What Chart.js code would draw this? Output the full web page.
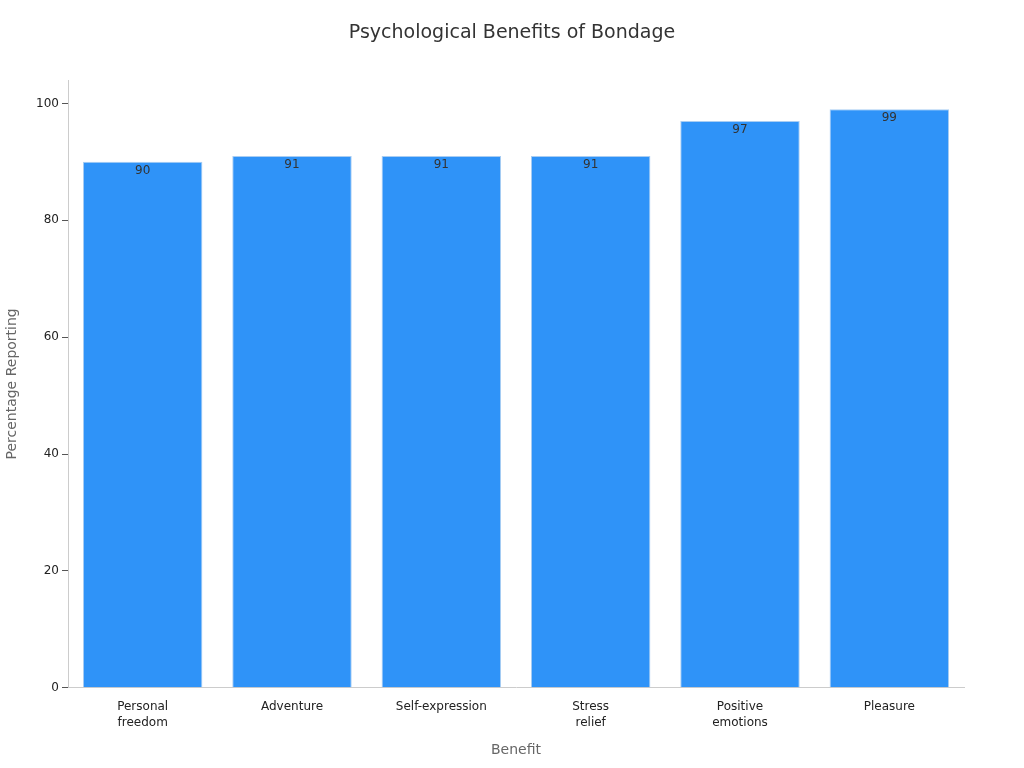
<!DOCTYPE html>
<html>
<head>
<meta charset="utf-8">
<script src="https://cdn.jsdelivr.net/npm/chart.js@4"></script>
<style>
  html, body { margin: 0; padding: 0; background: #fff; }
  #wrap { width: 1024px; height: 768px; }
</style>
</head>
<body>
<div id="wrap"><canvas id="chart" width="1024" height="768"></canvas></div>
<script>
const categories = [['Personal', 'freedom'], 'Adventure', 'Self-expression', ['Stress', 'relief'], ['Positive', 'emotions'], 'Pleasure'];
const values = [90, 91, 91, 91, 97, 99];
const yTicks = [0, 20, 40, 60, 80, 100];

// draws value labels just under the top of each bar
const valueLabels = {
  id: 'valueLabels',
  afterDatasetsDraw(chart) {
    const { ctx } = chart;
    const meta = chart.getDatasetMeta(0);
    ctx.save();
    ctx.font = '12px "DejaVu Sans"';
    ctx.fillStyle = '#333';
    ctx.textAlign = 'center';
    ctx.textBaseline = 'top';
    meta.data.forEach((bar, i) => ctx.fillText(String(values[i]), bar.x, bar.y + 3));
    ctx.restore();
  }
};

// title centred on the whole canvas, not the padded area
const pageTitle = {
  id: 'pageTitle',
  afterDraw(chart) {
    const { ctx } = chart;
    ctx.save();
    ctx.font = '19px "DejaVu Sans"';
    ctx.fillStyle = '#333';
    ctx.textAlign = 'center';
    ctx.textBaseline = 'middle';
    ctx.fillText('Psychological Benefits of Bondage', chart.width / 2, 33);
    ctx.restore();
  }
};

Chart.defaults.font.family = '"DejaVu Sans", sans-serif';
new Chart(document.getElementById('chart'), {
  type: 'bar',
  data: {
    labels: categories,
    datasets: [{
      data: values,
      backgroundColor: '#2f93f8',
      borderColor: '#a9cdf2',
      borderWidth: 1,
      categoryPercentage: 1,
      barPercentage: 0.8
    }]
  },
  options: {
    responsive: false,
    animation: false,
    layout: { padding: { left: 0, right: 60, top: 80, bottom: 5 } },
    plugins: {
      legend: { display: false },
      tooltip: { enabled: false },
      title: { display: false }
    },
    scales: {
      x: {
        grid: { display: false },
        border: { color: '#ccc' },
        ticks: { color: '#222', font: { size: 12, lineHeight: 1.35 }, maxRotation: 0 },
        title: { display: true, text: 'Benefit', color: '#666', font: { size: 14 }, padding: { top: 8 } }
      },
      y: {
        min: 0, max: 104,
        afterBuildTicks(axis) { axis.ticks = yTicks.map(v => ({ value: v })); },
        afterFit(axis) { axis.width = 68; },
        grid: { display: true, drawOnChartArea: false, drawTicks: true, tickLength: 6, tickColor: '#555' },
        border: { color: '#ccc' },
        ticks: { color: '#222', font: { size: 12 }, padding: 3 },
        title: { display: true, text: 'Percentage Reporting', color: '#666', font: { size: 14 } }
      }
    }
  },
  plugins: [valueLabels, pageTitle]
});
</script>
</body>
</html>
